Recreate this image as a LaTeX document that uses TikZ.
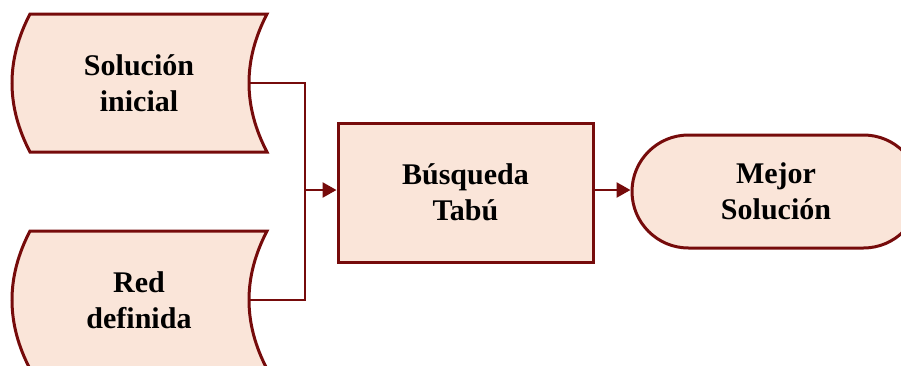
\documentclass[tikz,border=0pt]{standalone}
\usepackage{fontspec}
\setmainfont{Liberation Serif}
\usetikzlibrary{arrows.meta,shapes.misc}
\definecolor{edgered}{HTML}{760B0B}
\definecolor{peach}{HTML}{FAE5D9}
\begin{document}
\begin{tikzpicture}[x=1pt,y=-1pt,
  label/.style={align=center,font=\fontsize{30}{35.5}\selectfont\bfseries,inner sep=0pt},
  shapeline/.style={draw=edgered,line width=3pt,fill=peach},
  flow/.style={draw=edgered,line width=2.6pt},
  tip/.style={-{Triangle[length=14pt,width=15pt]}}]
\useasboundingbox (0,0) rectangle (901,365);
\clip (0,0) rectangle (901,365);

% stored-data shape: "Solución inicial"
\draw[shapeline] (30,14) -- (267,14)
  .. controls (243,60) and (243,106) .. (267,152) -- (30,152)
  .. controls (6,106) and (6,60) .. (30,14) -- cycle;
\coordinate (sol-out) at (249,83);
\node[label] (sol) at (139,83) {Solución\\inicial};

% stored-data shape: "Red definida"
\draw[shapeline] (30,231) -- (267,231)
  .. controls (243,277) and (243,323) .. (267,369) -- (30,369)
  .. controls (6,323) and (6,277) .. (30,231) -- cycle;
\coordinate (red-out) at (249,300);
\node[label] (red) at (139,300) {Red\\definida};

% process box
\node[shapeline,rectangle,minimum width=255pt,minimum height=139pt,
      label] (tabu) at (465.5,192.5) {Búsqueda\\Tabú};

% terminator
\node[shapeline,rounded rectangle,minimum width=288pt,minimum height=113pt,
      label] (best) at (776,191.5) {Mejor\\Solución};

% junction
\coordinate (join) at (305,190);
\draw[flow] (sol-out) -| (join);
\draw[flow] (red-out) -| (join);
\draw[flow,tip] (join) -- (tabu.west |- join);
\draw[flow,tip] (tabu.east |- join) -- (best.west |- join);
\end{tikzpicture}
\end{document}
